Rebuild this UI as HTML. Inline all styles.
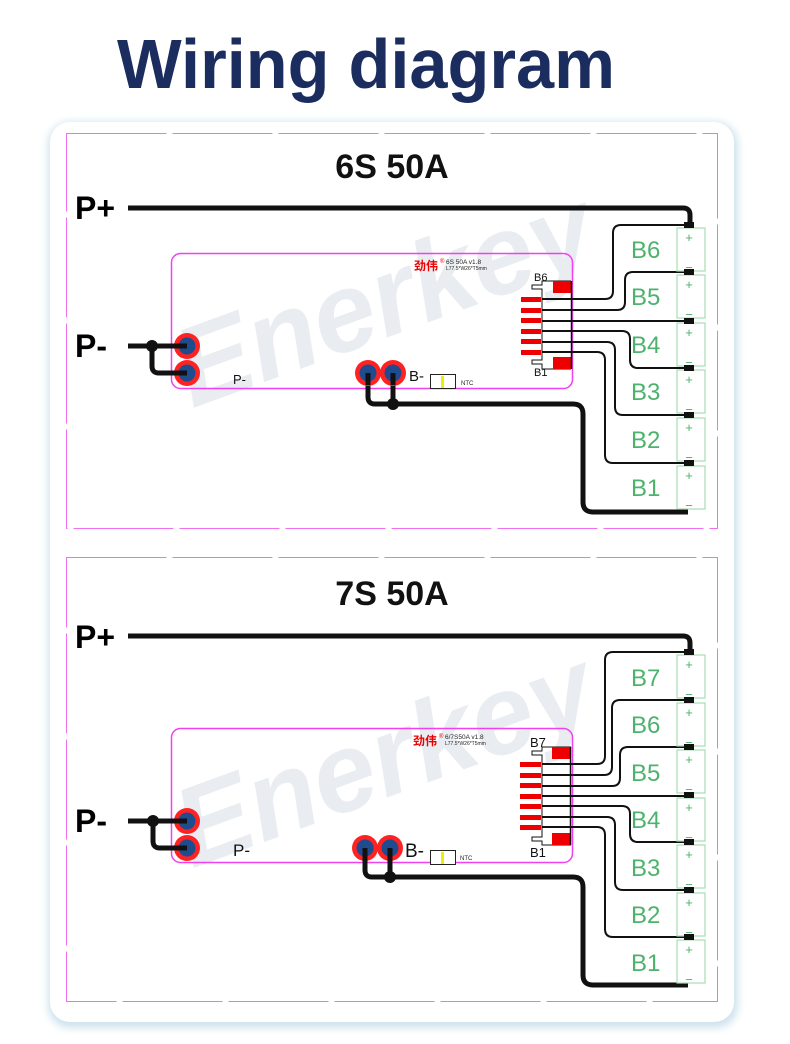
<!DOCTYPE html>
<html><head><meta charset="utf-8"><style>
html,body{margin:0;padding:0;background:#fff;}
svg{display:block;}
text{font-family:"Liberation Sans","Noto Sans CJK SC",sans-serif;}
</style></head><body>
<svg width="790" height="1044" viewBox="0 0 790 1044" xmlns="http://www.w3.org/2000/svg">
<defs>
<filter id="sh" x="-5%" y="-5%" width="110%" height="110%"><feGaussianBlur stdDeviation="4"/></filter>
<g id="pad"><circle r="13" fill="#f22"/><circle r="8.5" fill="#1f4b8f"/></g>
</defs>
<text x="366" y="88" text-anchor="middle" font-size="70" font-weight="bold" fill="#1b2c5e" textLength="498" lengthAdjust="spacingAndGlyphs">Wiring diagram</text>
<rect x="48" y="122" width="690" height="906" rx="22" fill="#cfe3ee" filter="url(#sh)"/>
<rect x="50" y="122" width="684" height="900" rx="20" fill="#fff"/>

<!-- ========== 6S ========== -->
<g>
<rect x="66.5" y="133.5" width="651" height="395" fill="none" stroke="#f070f0" stroke-width="1" stroke-dasharray="100 6"/>
<text x="392" y="178" text-anchor="middle" font-size="34" font-weight="bold" fill="#111">6S 50A</text>
<text x="390" y="335" text-anchor="middle" font-size="112" font-weight="bold" font-style="italic" fill="#e9ecf1" transform="rotate(-20 390 315)">Enerkey</text>
<text x="75" y="219" font-size="32" font-weight="bold" fill="#000">P+</text>
<text x="75" y="357" font-size="32" font-weight="bold" fill="#000">P-</text>
<rect x="171.5" y="253.5" width="401" height="135" rx="9" fill="none" stroke="#f040f0" stroke-width="1.5"/>
<text x="414" y="270" font-size="12" font-weight="bold" fill="#e00">劲伟</text>
<text x="440" y="263" font-size="6" fill="#e00">®</text>
<text x="446" y="264" font-size="6.5" fill="#222">6S 50A v1.8</text>
<text x="446" y="270" font-size="5" fill="#222">L77.5*W26*T5mm</text>
<text x="233" y="384" font-size="13" fill="#111">P-</text>
<text x="409" y="381" font-size="15" fill="#111">B-</text>
<rect x="430.5" y="374.5" width="25" height="14" fill="#fff" stroke="#222" stroke-width="1"/>
<rect x="441" y="376" width="3" height="12" fill="#ee0"/>
<text x="461" y="385" font-size="6" fill="#222">NTC</text>
<text x="534" y="281" font-size="11" fill="#111">B6</text>
<text x="534" y="376" font-size="11" fill="#111">B1</text>
<path d="M571 281 H542 V285 H532 V289 H542 V360 H532 V364 H542 V369 H571" fill="none" stroke="#111" stroke-width="1"/>
<rect x="553" y="281" width="18" height="12" fill="#e00"/>
<rect x="553" y="357" width="18" height="12" fill="#e00"/>
<g fill="#e00"><rect x="521" y="297" width="20" height="5"/><rect x="521" y="308" width="20" height="5"/><rect x="521" y="318" width="20" height="5"/><rect x="521" y="329" width="20" height="5"/><rect x="521" y="339" width="20" height="5"/><rect x="521" y="350" width="20" height="5"/></g>
<line x1="571.5" y1="281" x2="571.5" y2="369" stroke="#111" stroke-width="1.5"/>
<g fill="none" stroke="#111" stroke-width="2">
<path d="M542 299 H605 Q613 299 613 291 V233 Q613 225 621 225 H688"/>
<path d="M542 310 H617 Q625 310 625 302 V280 Q625 272 633 272 H688"/>
<path d="M542 321 H688"/>
<path d="M542 331 H622 Q630 331 630 339 V360 Q630 368 638 368 H688"/>
<path d="M542 342 H607 Q615 342 615 350 V407 Q615 415 623 415 H688"/>
<path d="M542 352 H597 Q605 352 605 360 V455 Q605 463 613 463 H688"/>
</g>
<g fill="none" stroke="#111" stroke-width="5">
<path d="M128 208 H683 Q690 208 690 215 V226"/>
<path d="M128 346 H187 M152 346 V366 Q152 373 159 373 H187"/>
<path d="M368 373 V397 Q368 404 375 404 H573 Q583 404 583 414 V502 Q583 512 593 512 H688 M393 373 V404"/>
</g>
<circle cx="152" cy="346" r="6" fill="#111"/>
<circle cx="393" cy="404" r="6" fill="#111"/>
<use href="#pad" x="187" y="346"/><use href="#pad" x="187" y="373"/>
<use href="#pad" x="368" y="373"/><use href="#pad" x="393" y="373"/>
<path d="M187 346 H170 M187 373 H170 M368 373 V385 M393 373 V385" stroke="#111" stroke-width="5"/>
<g fill="none" stroke="#a9dcb4" stroke-width="1.2">
<rect x="677" y="228" width="28" height="43"/><rect x="677" y="275" width="28" height="43"/><rect x="677" y="323" width="28" height="43"/><rect x="677" y="370" width="28" height="43"/><rect x="677" y="418" width="28" height="43"/><rect x="677" y="466" width="28" height="43"/>
</g>
<g font-size="24" fill="#4cb26c">
<text x="631" y="258">B6</text><text x="631" y="305">B5</text><text x="631" y="353">B4</text><text x="631" y="400">B3</text><text x="631" y="448">B2</text><text x="631" y="496">B1</text>
</g>
<g font-size="13" fill="#4cb26c" text-anchor="middle">
<text x="689" y="242">+</text><text x="689" y="289">+</text><text x="689" y="337">+</text><text x="689" y="384">+</text><text x="689" y="432">+</text><text x="689" y="480">+</text>
<text x="689" y="272">−</text><text x="689" y="319">−</text><text x="689" y="367">−</text><text x="689" y="414">−</text><text x="689" y="462">−</text><text x="689" y="510">−</text>
</g>
<g fill="#111"><rect x="684" y="222" width="10" height="6"/><rect x="684" y="269" width="10" height="6"/><rect x="684" y="318" width="10" height="6"/><rect x="684" y="365" width="10" height="6"/><rect x="684" y="412" width="10" height="6"/><rect x="684" y="460" width="10" height="6"/></g>
</g>

<!-- ========== 7S ========== -->
<g>
<rect x="66.5" y="557.5" width="651" height="444" fill="none" stroke="#f070f0" stroke-width="1" stroke-dasharray="100 6"/>
<text x="392" y="605" text-anchor="middle" font-size="34" font-weight="bold" fill="#111">7S 50A</text>
<text x="390" y="795" text-anchor="middle" font-size="112" font-weight="bold" font-style="italic" fill="#e9ecf1" transform="rotate(-20 390 775)">Enerkey</text>
<text x="75" y="648" font-size="32" font-weight="bold" fill="#000">P+</text>
<text x="75" y="832" font-size="32" font-weight="bold" fill="#000">P-</text>
<rect x="171.5" y="728.5" width="401" height="134" rx="9" fill="none" stroke="#f040f0" stroke-width="1.5"/>
<text x="413" y="745" font-size="12" font-weight="bold" fill="#e00">劲伟</text>
<text x="439" y="738" font-size="6" fill="#e00">®</text>
<text x="445" y="739" font-size="6.5" fill="#222">6/7S50A v1.8</text>
<text x="445" y="745" font-size="5" fill="#222">L77.5*W26*T5mm</text>
<text x="233" y="856" font-size="17" fill="#111">P-</text>
<text x="405" y="857" font-size="19" fill="#111">B-</text>
<rect x="430.5" y="850.5" width="25" height="14" fill="#fff" stroke="#222" stroke-width="1"/>
<rect x="441" y="852" width="3" height="12" fill="#ee0"/>
<text x="460" y="860" font-size="6" fill="#222">NTC</text>
<text x="530" y="747" font-size="13" fill="#111">B7</text>
<text x="530" y="857" font-size="13" fill="#111">B1</text>
<path d="M571 747 H542 V751 H532 V755 H542 V837 H532 V841 H542 V845 H571" fill="none" stroke="#111" stroke-width="1"/>
<rect x="552" y="747" width="19" height="12" fill="#e00"/>
<rect x="552" y="833" width="19" height="12" fill="#e00"/>
<g fill="#e00"><rect x="520" y="762" width="21" height="5"/><rect x="520" y="773" width="21" height="5"/><rect x="520" y="783" width="21" height="5"/><rect x="520" y="794" width="21" height="5"/><rect x="520" y="804" width="21" height="5"/><rect x="520" y="815" width="21" height="5"/><rect x="520" y="825" width="21" height="5"/></g>
<line x1="570.5" y1="747" x2="570.5" y2="845" stroke="#111" stroke-width="1.5"/>
<g fill="none" stroke="#111" stroke-width="2">
<path d="M542 764 H597 Q605 764 605 756 V660 Q605 652 613 652 H688"/>
<path d="M542 775 H604 Q612 775 612 767 V708 Q612 700 620 700 H688"/>
<path d="M542 786 H612 Q620 786 620 778 V755 Q620 747 628 747 H688"/>
<path d="M542 796 H688"/>
<path d="M542 806 H622 Q630 806 630 814 V834 Q630 842 638 842 H688"/>
<path d="M542 817 H607 Q615 817 615 825 V882 Q615 890 623 890 H688"/>
<path d="M542 827 H597 Q605 827 605 835 V929 Q605 937 613 937 H688"/>
</g>
<g fill="none" stroke="#111" stroke-width="5">
<path d="M128 636 H683 Q690 636 690 643 V653"/>
<path d="M128 821 H187 M153 821 V841 Q153 848 160 848 H187"/>
<path d="M365 848 V870 Q365 877 372 877 H573 Q583 877 583 887 V975 Q583 985 593 985 H688 M390 848 V877"/>
</g>
<circle cx="153" cy="821" r="6" fill="#111"/>
<circle cx="390" cy="877" r="6" fill="#111"/>
<use href="#pad" x="187" y="821"/><use href="#pad" x="187" y="848"/>
<use href="#pad" x="365" y="848"/><use href="#pad" x="390" y="848"/>
<path d="M187 821 H170 M187 848 H170 M365 848 V862 M390 848 V862" stroke="#111" stroke-width="5"/>
<g fill="none" stroke="#a9dcb4" stroke-width="1.2">
<rect x="677" y="655" width="28" height="43"/><rect x="677" y="703" width="28" height="43"/><rect x="677" y="750" width="28" height="43"/><rect x="677" y="798" width="28" height="43"/><rect x="677" y="845" width="28" height="43"/><rect x="677" y="893" width="28" height="43"/><rect x="677" y="940" width="28" height="43"/>
</g>
<g font-size="24" fill="#4cb26c">
<text x="631" y="686">B7</text><text x="631" y="733">B6</text><text x="631" y="781">B5</text><text x="631" y="828">B4</text><text x="631" y="876">B3</text><text x="631" y="923">B2</text><text x="631" y="971">B1</text>
</g>
<g font-size="13" fill="#4cb26c" text-anchor="middle">
<text x="689" y="669">+</text><text x="689" y="717">+</text><text x="689" y="764">+</text><text x="689" y="812">+</text><text x="689" y="859">+</text><text x="689" y="907">+</text><text x="689" y="954">+</text>
<text x="689" y="699">−</text><text x="689" y="747">−</text><text x="689" y="794">−</text><text x="689" y="842">−</text><text x="689" y="889">−</text><text x="689" y="937">−</text><text x="689" y="984">−</text>
</g>
<g fill="#111"><rect x="684" y="649" width="10" height="6"/><rect x="684" y="697" width="10" height="6"/><rect x="684" y="744" width="10" height="6"/><rect x="684" y="792" width="10" height="6"/><rect x="684" y="839" width="10" height="6"/><rect x="684" y="887" width="10" height="6"/><rect x="684" y="934" width="10" height="6"/></g>
</g>
</svg>
</body></html>
